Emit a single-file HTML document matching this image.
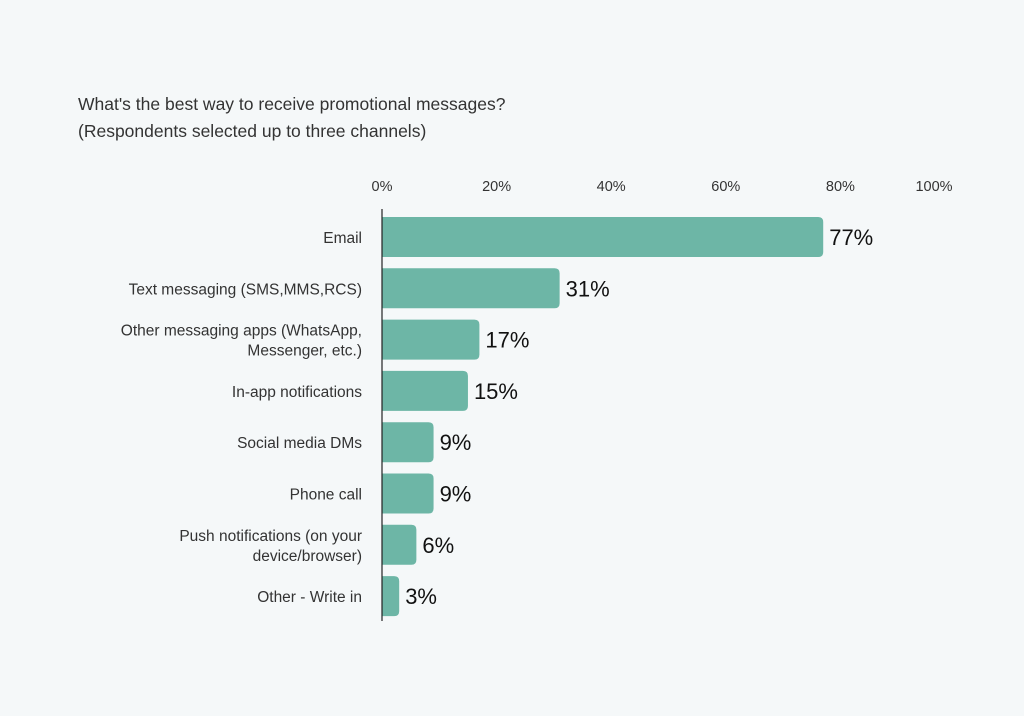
<!DOCTYPE html>
<html><head><meta charset="utf-8"><style>
body{margin:0;background:#f5f8f9;}
svg{display:block;font-family:"Liberation Sans",Arial,sans-serif;}
</style></head><body>
<svg id="chart" width="1024" height="716" viewBox="0 0 1024 716">
<rect width="1024" height="716" fill="#f5f8f9"/>
<text x="78" y="110" font-size="17.5" fill="#333">What's the best way to receive promotional messages?</text>
<text x="78" y="137" font-size="17.5" fill="#333">(Respondents selected up to three channels)</text>
<g id="plot"></g>
</svg>
<script>
const categories=[["Email"],["Text messaging (SMS,MMS,RCS)"],["Other messaging apps (WhatsApp,","Messenger, etc.)"],["In-app notifications"],["Social media DMs"],["Phone call"],["Push notifications (on your","device/browser)"],["Other - Write in"]];
const values=[77,31,17,15,9,9,6,3];
const ticks=[0,20,40,60,80,100];
const tickLabels=["0%","20%","40%","60%","80%","100%"];
const NS="http://www.w3.org/2000/svg";
const g=document.getElementById('plot');
const x0=382,w=573,y0=217,step=51.3,bh=40;
const xs=v=>x0+v/100*w;
const ys=i=>y0+i*step;
function mk(t,a){const e=document.createElementNS(NS,t);for(const k in a)e.setAttribute(k,a[k]);g.appendChild(e);return e;}
ticks.forEach((t,i)=>{
  const e=mk('text',{x:i===ticks.length-1?xs(t)-21:xs(t),y:191,'font-size':14.5,fill:'#333','text-anchor':'middle'});
  e.textContent=tickLabels[i];
  
  
});
values.forEach((v,i)=>{
  const y=ys(i),xe=xs(v),r=5,bw=xe-x0;
  const p=mk('path',{d:`M${x0},${y}H${xe-r}Q${xe},${y} ${xe},${y+r}V${y+bh-r}Q${xe},${y+bh} ${xe-r},${y+bh}H${x0}Z`,fill:'#6db6a6'});
  
  
  const vt=mk('text',{x:xe+6,y:y+bh/2+8,'font-size':22,fill:'#111'});
  vt.textContent=v+'%';
  
  
  const lines=categories[i];
  lines.forEach((l,j)=>{
    const off=lines.length===1?6:(j===0?-4:16);
    const ct=mk('text',{x:362,y:y+bh/2+off,'font-size':15.5,fill:'#333','text-anchor':'end'});
    ct.textContent=l;
    
    
  });
});
const ax=mk('line',{x1:x0,y1:209,x2:x0,y2:621,stroke:'#222','stroke-width':1.2});


</script>
</body></html>
